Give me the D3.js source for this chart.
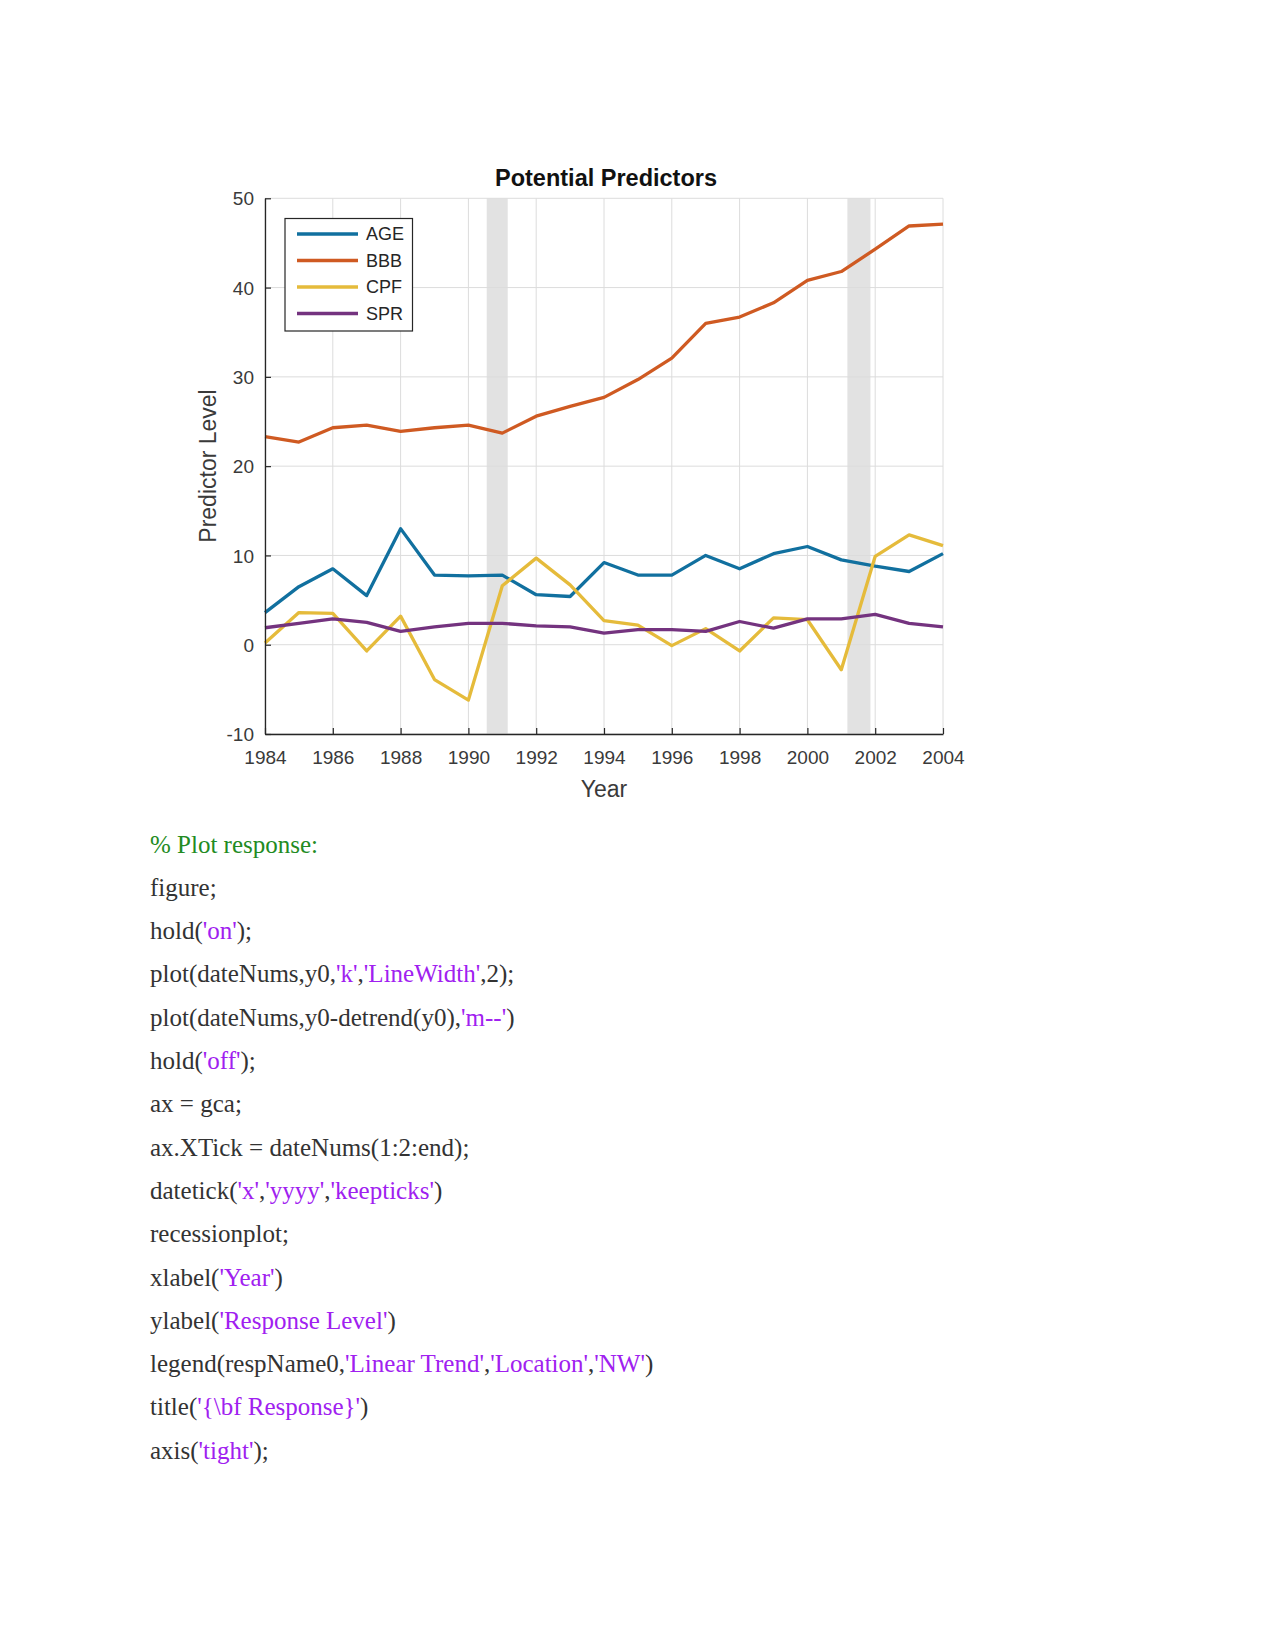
<!DOCTYPE html>
<html>
<head>
<meta charset="utf-8">
<script src="https://cdn.jsdelivr.net/npm/d3@7"></script>
<style>
  html, body { margin: 0; padding: 0; background: #fff; }
  svg { display: block; }
</style>
</head>
<body>
<svg id="page" width="1275" height="1651"></svg>
<script>
// ---------- data ----------
const years = [1984,1985,1986,1987,1988,1989,1990,1991,1992,1993,1994,1995,1996,1997,1998,1999,2000,2001,2002,2003,2004];
const AGE = [3.6,6.5,8.5,5.5,13.0,7.8,7.7,7.8,5.6,5.4,9.2,7.8,7.8,10.0,8.5,10.2,11.0,9.5,8.8,8.2,10.2];
const BBB = [23.3,22.7,24.3,24.6,23.9,24.3,24.6,23.7,25.6,26.7,27.7,29.7,32.1,36.0,36.7,38.3,40.8,41.8,44.3,46.9,47.1];
const CPF = [0.2,3.6,3.5,-0.7,3.2,-3.9,-6.2,6.6,9.7,6.7,2.7,2.2,-0.1,1.8,-0.7,3.0,2.8,-2.8,9.9,12.3,11.1];
const SPR = [1.9,2.4,2.9,2.5,1.5,2.0,2.4,2.4,2.1,2.0,1.3,1.7,1.7,1.5,2.6,1.85,2.9,2.9,3.4,2.4,2.0];
const seriesNames = ["AGE","BBB","CPF","SPR"];
const seriesColors = ["#11709f","#cf5a22","#e5bb3b","#74337f"];
const recessions = [[1990.54,1991.16],[2001.18,2001.86]];
const xTicks = [1984,1986,1988,1990,1992,1994,1996,1998,2000,2002,2004];
const yTicks = [-10,0,10,20,30,40,50];
const title = "Potential Predictors";
const xLabel = "Year";
const yLabel = "Predictor Level";

// code listing: [text, kind] segments; kind: c=comment, s=string, n=normal
const codeLines = [
  [["% Plot response:","c"]],
  [["figure;","n"]],
  [["hold(","n"],["'on'","s"],[");","n"]],
  [["plot(dateNums,y0,","n"],["'k'","s"],[",","n"],["'LineWidth'","s"],[",2);","n"]],
  [["plot(dateNums,y0-detrend(y0),","n"],["'m--'","s"],[")","n"]],
  [["hold(","n"],["'off'","s"],[");","n"]],
  [["ax = gca;","n"]],
  [["ax.XTick = dateNums(1:2:end);","n"]],
  [["datetick(","n"],["'x'","s"],[",","n"],["'yyyy'","s"],[",","n"],["'keepticks'","s"],[")","n"]],
  [["recessionplot;","n"]],
  [["xlabel(","n"],["'Year'","s"],[")","n"]],
  [["ylabel(","n"],["'Response Level'","s"],[")","n"]],
  [["legend(respName0,","n"],["'Linear Trend'","s"],[",","n"],["'Location'","s"],[",","n"],["'NW'","s"],[")","n"]],
  [["title(","n"],["'{\\bf Response}'","s"],[")","n"]],
  [["axis(","n"],["'tight'","s"],[");","n"]]
];

// ---------- layout ----------
const svg = d3.select("#page");
const L = 265, R = 943, T = 198.3, B = 734;
const x = d3.scaleLinear().domain([1984, 2004]).range([L, R]);
const y = d3.scaleLinear().domain([-10, 50]).range([B, T]);
const sans = "'Liberation Sans', Arial, Helvetica, sans-serif";
const axisColor = "#262626";

const g = svg.append("g");

// recession shading
g.selectAll("rect.rec").data(recessions).enter().append("rect")
  .attr("x", d => x(d[0])).attr("width", d => x(d[1]) - x(d[0]))
  .attr("y", T).attr("height", B - T)
  .attr("fill", "#e2e2e2");

// grid
g.selectAll("line.vg").data(xTicks).enter().append("line")
  .attr("x1", d => x(d)).attr("x2", d => x(d))
  .attr("y1", T).attr("y2", B)
  .attr("stroke", "#dcdcdc").attr("stroke-width", 1);
g.selectAll("line.hg").data(yTicks).enter().append("line")
  .attr("x1", L).attr("x2", R)
  .attr("y1", d => y(d)).attr("y2", d => y(d))
  .attr("stroke", "#dcdcdc").attr("stroke-width", 1);

// series lines
const allSeries = [AGE, BBB, CPF, SPR];
const line = d3.line().x((d, i) => x(years[i])).y(d => y(d));
allSeries.forEach((s, k) => {
  g.append("path").datum(s)
    .attr("d", line)
    .attr("fill", "none")
    .attr("stroke", seriesColors[k])
    .attr("stroke-width", 3.3)
    .attr("stroke-linejoin", "round");
});

// axes
const xAxis = d3.axisBottom(x).tickValues(xTicks).tickFormat(d3.format("d")).tickSizeInner(-6).tickSizeOuter(0).tickPadding(17);
const yAxis = d3.axisLeft(y).tickValues(yTicks).tickFormat(d => String(d)).tickSizeInner(-6).tickSizeOuter(0).tickPadding(11);
const gx = svg.append("g").attr("transform", `translate(0,${B})`).call(xAxis);
const gy = svg.append("g").attr("transform", `translate(${L},0)`).call(yAxis);
[gx, gy].forEach(a => {
  a.select(".domain").attr("stroke", axisColor).attr("stroke-width", 1.3);
  a.selectAll(".tick line").attr("stroke", axisColor).attr("stroke-width", 1.2);
  a.selectAll(".tick text").attr("fill", "#3a3a3a").attr("font-family", sans).attr("font-size", 19);
});
gy.selectAll(".tick text").attr("dy", "0.35em");

// title & labels
svg.append("text").attr("x", 606).attr("y", 186).attr("text-anchor", "middle")
  .attr("font-family", sans).attr("font-weight", "bold").attr("font-size", 23.5)
  .attr("fill", "#111").text(title);
svg.append("text").attr("x", 604).attr("y", 797).attr("text-anchor", "middle")
  .attr("font-family", sans).attr("font-size", 23).attr("fill", "#3a3a3a").text(xLabel);
svg.append("text").attr("transform", "translate(216,466) rotate(-90)").attr("text-anchor", "middle")
  .attr("font-family", sans).attr("font-size", 23).attr("fill", "#3a3a3a").text(yLabel);

// legend
const lg = svg.append("g");
lg.append("rect").attr("x", 285).attr("y", 218.5).attr("width", 127.5).attr("height", 112.5)
  .attr("fill", "#fff").attr("stroke", axisColor).attr("stroke-width", 1.2);
const rowY = d3.scaleLinear().domain([0, 3]).range([234, 313.5]);
seriesNames.forEach((n, k) => {
  lg.append("line").attr("x1", 297).attr("x2", 358).attr("y1", rowY(k)).attr("y2", rowY(k))
    .attr("stroke", seriesColors[k]).attr("stroke-width", 3.6);
  lg.append("text").attr("x", 366).attr("y", rowY(k)).attr("dy", "0.36em")
    .attr("font-family", sans).attr("font-size", 18).attr("fill", "#262626").text(n);
});

// code listing
const codeColors = { c: "#228b22", s: "#a020f0", n: "#333333" };
const code = svg.append("g");
codeLines.forEach((segs, i) => {
  const t = code.append("text").attr("x", 150).attr("y", 852.5 + i * 43.3)
    .attr("font-family", "'Liberation Serif', 'Times New Roman', serif").attr("font-size", 25)
    .attr("xml:space", "preserve");
  segs.forEach(s => t.append("tspan").attr("fill", codeColors[s[1]]).text(s[0]));
});
</script>
</body>
</html>
